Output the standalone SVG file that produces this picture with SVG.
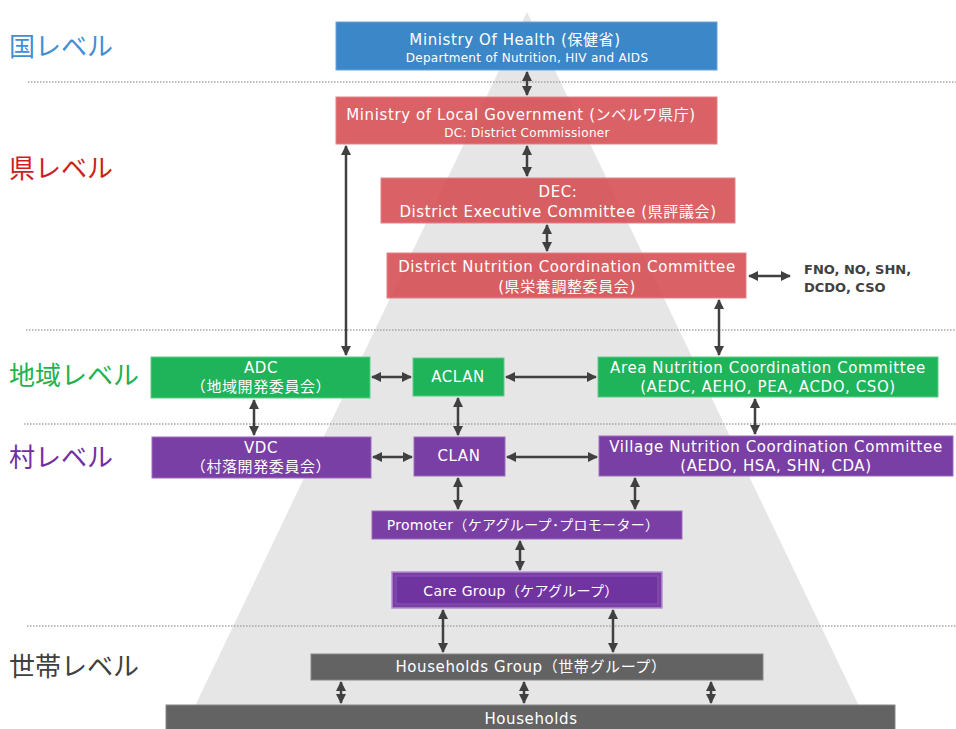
<svg xmlns="http://www.w3.org/2000/svg" width="956" height="729" viewBox="0 0 956 729">
<defs>
<marker id="ah" viewBox="0 0 10 10" refX="9" refY="5" markerWidth="4" markerHeight="4" orient="auto-start-reverse" markerUnits="strokeWidth">
<path d="M0,0 L10,5 L0,10 z" fill="#404040"/>
</marker>
<style>
.lvl{font-family:"Noto Sans CJK JP","Noto Sans",sans-serif;font-size:26px}
.t{font-family:"DejaVu Sans","Noto Sans CJK JP",sans-serif;font-size:15px;letter-spacing:0.6px;fill:#fff;text-anchor:middle}
.t2{font-family:"DejaVu Sans","Noto Sans CJK JP",sans-serif;font-size:14px;letter-spacing:0.3px;fill:#fff;text-anchor:middle}
.s{font-family:"DejaVu Sans","Noto Sans CJK JP",sans-serif;font-size:12px;letter-spacing:0.3px;fill:#fff;text-anchor:middle}
.dot{stroke:#a6a6a6;stroke-width:1.5;stroke-dasharray:1.5 1.5}
.red{fill:#d4474b;fill-opacity:0.85;stroke:#e08386;stroke-width:1}
.grn{fill:#1fb35a;stroke:#5fcb88;stroke-width:1}
.pur{fill:#7a3fa5;stroke:#9b6cbd;stroke-width:1}
.gry{fill:#636363;stroke:#888;stroke-width:1}
.c line{stroke:#404040;stroke-width:2.5;marker-start:url(#ah);marker-end:url(#ah)}
</style>
</defs>
<rect width="956" height="729" fill="#fff"/>
<polygon points="527,12 870,729 184,729" fill="#e6e6e6"/>
<g>
<line class="dot" x1="28" y1="82" x2="956" y2="82"/>
<line class="dot" x1="26" y1="330" x2="956" y2="330"/>
<line class="dot" x1="24" y1="424" x2="956" y2="424"/>
<line class="dot" x1="27" y1="626" x2="956" y2="626"/>
</g>
<g id="levels">
<text class="lvl" x="9" y="56" fill="#3f8fd2">国レベル</text>
<text class="lvl" x="9" y="178" fill="#cc1f24">県レベル</text>
<text class="lvl" x="9" y="385" fill="#22b14c">地域レベル</text>
<text class="lvl" x="9" y="467" fill="#7030a0">村レベル</text>
<text class="lvl" x="9" y="676" fill="#404040">世帯レベル</text>
</g>
<g id="moh">
<rect x="336" y="22" width="381" height="48" fill="#3c87c8" stroke="#6aa3d8"/>
<text class="t" x="515" y="45">Ministry Of Health (保健省)</text>
<text class="s" x="527" y="62">Department of Nutrition, HIV and AIDS</text>
</g>
<g id="mlg">
<rect class="red" x="336" y="97" width="381" height="47"/>
<text class="t" x="521" y="120">Ministry of Local Government (ンベルワ県庁)</text>
<text class="s" x="527" y="137">DC: District Commissioner</text>
</g>
<g id="dec">
<rect class="red" x="381" y="178" width="354" height="45"/>
<text class="t" x="558" y="197">DEC:</text>
<text class="t" x="558" y="217">District Executive Committee (県評議会)</text>
</g>
<g id="dncc">
<rect class="red" x="387" y="253" width="359" height="45"/>
<text class="t" x="567" y="272">District Nutrition Coordination Committee</text>
<text class="t" x="567" y="292">(県栄養調整委員会)</text>
</g>
<g id="fno">
<text x="804" y="274" font-family="'DejaVu Sans',sans-serif" font-size="13" font-weight="bold" fill="#404040">FNO, NO, SHN,</text>
<text x="804" y="292" font-family="'DejaVu Sans',sans-serif" font-size="13" font-weight="bold" fill="#404040">DCDO, CSO</text>
</g>
<g id="adc">
<rect class="grn" x="151" y="357" width="219" height="41"/>
<text class="t" x="261" y="373">ADC</text>
<text class="t" x="261" y="392">（地域開発委員会）</text>
</g>
<g id="aclan">
<rect class="grn" x="413" y="358" width="91" height="38"/>
<text class="t" x="458" y="382">ACLAN</text>
</g>
<g id="ancc">
<rect class="grn" x="598" y="357" width="340" height="40"/>
<text class="t" x="768" y="373">Area Nutrition Coordination Committee</text>
<text class="t" x="768" y="392">(AEDC, AEHO, PEA, ACDO, CSO)</text>
</g>
<g id="vdc">
<rect class="pur" x="152" y="437" width="219" height="41"/>
<text class="t" x="261" y="453">VDC</text>
<text class="t" x="261" y="472">（村落開発委員会）</text>
</g>
<g id="clan">
<rect class="pur" x="414" y="437" width="91" height="39"/>
<text class="t" x="459" y="461">CLAN</text>
</g>
<g id="vncc">
<rect class="pur" x="599" y="436" width="354" height="40"/>
<text class="t" x="776" y="452">Village Nutrition Coordination Committee</text>
<text class="t" x="776" y="471">(AEDO, HSA, SHN, CDA)</text>
</g>
<g id="promoter">
<rect class="pur" x="372" y="511" width="310" height="28"/>
<text class="t2" x="523" y="530">Promoter（ケアグループ･プロモーター）</text>
</g>
<g id="caregroup">
<rect x="392" y="572" width="270" height="36" fill="#7a3fa5" stroke="#b48fd0" stroke-width="1.5"/>
<rect x="396" y="576" width="262" height="28" fill="#7034a0" stroke="#8a55b3" stroke-width="1"/>
<text class="t2" x="521" y="596">Care Group（ケアグループ）</text>
</g>
<g id="hg">
<rect class="gry" x="311" y="654" width="452" height="26"/>
<text class="t" x="531" y="672">Households Group（世帯グループ）</text>
</g>
<g id="hh">
<rect class="gry" x="166" y="705" width="729" height="30"/>
<text class="t" x="531" y="724">Households</text>
</g>
<g class="c" id="connectors">
<line x1="527" y1="72" x2="527" y2="95"/>
<line x1="527" y1="146" x2="527" y2="176"/>
<line x1="547" y1="225" x2="547" y2="251"/>
<line x1="749" y1="276" x2="790" y2="276"/>
<line x1="719" y1="300" x2="719" y2="355"/>
<line x1="346" y1="146" x2="346" y2="355"/>
<line x1="372" y1="377" x2="411" y2="377"/>
<line x1="506" y1="377" x2="596" y2="377"/>
<line x1="254" y1="400" x2="254" y2="435"/>
<line x1="458" y1="398" x2="458" y2="435"/>
<line x1="755" y1="399" x2="755" y2="434"/>
<line x1="373" y1="457" x2="412" y2="457"/>
<line x1="507" y1="457" x2="597" y2="457"/>
<line x1="458" y1="478" x2="458" y2="509"/>
<line x1="635" y1="478" x2="635" y2="509"/>
<line x1="520" y1="541" x2="520" y2="570"/>
<line x1="443" y1="610" x2="443" y2="652"/>
<line x1="613" y1="610" x2="613" y2="652"/>
<line x1="341" y1="682" x2="341" y2="703"/>
<line x1="524" y1="682" x2="524" y2="703"/>
<line x1="711" y1="682" x2="711" y2="703"/>
</g>
</svg>
